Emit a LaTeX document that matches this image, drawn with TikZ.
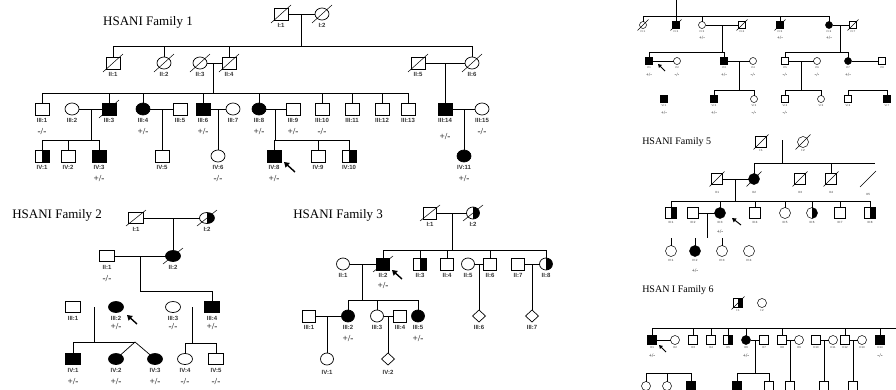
\documentclass[tikz,border=0pt]{standalone}
\usepackage{fontspec}
\setmainfont{Liberation Serif}
\setsansfont{Liberation Sans}
\usetikzlibrary{shapes.geometric,arrows.meta,calc}
\newcommand\mkdead[3]{\draw[dln,shift={(#1.center)}] (-#2,#3) -- (#2,-#3);}
\tikzset{
  ind/.style={draw=black,inner sep=0pt,outer sep=0pt,fill=white},
  sqr/.style 2 args={ind,rectangle,minimum width=#1,minimum height=#2},
  elp/.style 2 args={ind,ellipse,minimum width=#1,minimum height=#2},
  dia/.style 2 args={ind,diamond,minimum width=#1,minimum height=#2},
  aff/.style={fill=black},
  hr/.style={path picture={\fill[black] (path picture bounding box.north) rectangle (path picture bounding box.south east);}},
  dln/.style={line width=0.5pt},
  lbl/.style={font=\sffamily\bfseries\fontsize{6}{6}\selectfont,inner sep=0.2pt,text=black!80},
  gtx/.style={font=\fontsize{9.2}{9.2}\selectfont,inner sep=0pt},
  lab/.style={label={[lbl]below:{#1}}},
  labd/.style 2 args={label={[lbl,label distance=#2]below:{#1}}},
  geno/.style={label={[gtx]below:{#1}}},
  genod/.style 2 args={label={[gtx,label distance=#2]below:{#1}}},
  ttl/.style={font=\fontsize{13}{13}\selectfont,inner sep=0pt},
  parr/.style={line width=1.4pt,-{Triangle[length=5pt,width=6pt]}},
}
\begin{document}
\begin{tikzpicture}[x=1pt,y=-1pt]
\useasboundingbox (0,0) rectangle (896,389);
\fill[white] (0,0) rectangle (896,389);
\clip (0,0) rectangle (896,389);

%================ Family 1
\begin{scope}[line width=0.7pt,fsq/.style={sqr={14}{12}},fci/.style={elp={14}{12}},
  lbl/.append style={label distance=3pt},gtx/.append style={label distance=13pt}]
\node[ttl] (t1) at (148,22) {HSANI Family 1};
\node[fsq,lab={I:1}] (aI1) at (281,14) {};
\node[fci,lab={I:2}] (aI2) at (322,14) {};
\mkdead{aI1}{10}{9}\mkdead{aI2}{10}{9}
\draw (aI1) -- (aI2);
\coordinate (aJ1) at (301,14);
\coordinate (aS2a) at (113,46); \coordinate (aS2b) at (472,46);
\draw (aS2a) -- (aS2b);
\draw (aJ1) -- (aJ1 |- aS2a);
\node[fsq,lab={II:1}] (aII1) at (113,63) {};
\node[fci,lab={II:2}] (aII2) at (164,63) {};
\node[fci,lab={II:3}] (aII3) at (200,63) {};
\node[fsq,lab={II:4}] (aII4) at (229,63) {};
\node[fsq,lab={II:5}] (aII5) at (418,63) {};
\node[fci,lab={II:6}] (aII6) at (472,63) {};
\foreach \n in {aII1,aII2,aII3,aII4,aII5,aII6} {\mkdead{\n}{10}{9}}
\foreach \n in {aII1,aII2,aII4,aII6} \draw (\n) -- (\n |- aS2a);
\draw (aII3) -- (aII4); \coordinate (aJ2) at (213,63);
\coordinate (aS3a) at (42,93); \coordinate (aS3b) at (408,93);
\draw (aS3a) -- (aS3b); \draw (aJ2) -- (aJ2 |- aS3a);
\draw (aII5) -- (aII6); \coordinate (aJ3) at (445,63);
\node[fsq,lab={III:1},geno={-/-}] (aIII1) at (42,109) {};
\node[fci,lab={III:2}] (aIII2) at (72,109) {};
\node[fsq,aff,lab={III:3}] (aIII3) at (109,109) {}; \mkdead{aIII3}{10}{9}
\node[fci,aff,lab={III:4},geno={+/-}] (aIII4) at (143,109) {};
\node[fsq,lab={III:5}] (aIII5) at (180,109) {};
\node[fsq,aff,lab={III:6},geno={+/-}] (aIII6) at (203,109) {};
\node[fci,lab={III:7}] (aIII7) at (233,109) {};
\node[fci,aff,lab={III:8},geno={+/-}] (aIII8) at (259,109) {};
\node[fsq,lab={III:9},geno={+/-}] (aIII9) at (293,109) {};
\node[fsq,lab={III:10},geno={-/-}] (aIII10) at (322,109) {};
\node[fsq,lab={III:11}] (aIII11) at (352,109) {};
\node[fsq,lab={III:12}] (aIII12) at (382,109) {};
\node[fsq,lab={III:13}] (aIII13) at (408,109) {};
\node[fsq,aff,lab={III:14},genod={+/-}{18pt}] (aIII14) at (445,109) {};
\node[fci,lab={III:15},geno={-/-}] (aIII15) at (482,109) {};
\draw (aJ3) -- (aIII14);
\foreach \n in {aIII1,aIII3,aIII4,aIII6,aIII8,aIII10,aIII11,aIII12,aIII13} \draw (\n) -- (\n |- aS3a);
\draw (aIII2) -- (aIII3); \draw (aIII4) -- (aIII5); \draw (aIII6) -- (aIII7);
\draw (aIII8) -- (aIII9); \draw (aIII14) -- (aIII15);
\coordinate (aJ4) at (91,109); \coordinate (aJ5) at (162,109); \coordinate (aJ6) at (218,109);
\coordinate (aJ7) at (275,109); \coordinate (aJ8) at (464,109);
\coordinate (aS4a) at (42,140); \coordinate (aS4b) at (99,140);
\coordinate (aS5a) at (274,140); \coordinate (aS5b) at (349,140);
\draw (aS4a) -- (aS4b); \draw (aS5a) -- (aS5b);
\draw (aJ4) -- (aJ4 |- aS4a); \draw (aJ7) -- (aJ7 |- aS5a);
\node[fsq,hr,lab={IV:1}] (aIV1) at (42,156) {};
\node[fsq,lab={IV:2}] (aIV2) at (68,156) {};
\node[fsq,aff,lab={IV:3},geno={+/-}] (aIV3) at (99,156) {};
\node[fsq,lab={IV:5}] (aIV5) at (162,156) {};
\node[fci,lab={IV:6},geno={-/-}] (aIV6) at (218,156) {};
\node[fsq,aff,lab={IV:8},geno={+/-}] (aIV8) at (274,156) {};
\node[fsq,lab={IV:9}] (aIV9) at (318,156) {};
\node[fsq,hr,lab={IV:10}] (aIV10) at (349,156) {};
\node[fci,aff,lab={IV:11},geno={+/-}] (aIV11) at (464,156) {};
\foreach \n in {aIV1,aIV2,aIV3} \draw (\n) -- (\n |- aS4a);
\foreach \n in {aIV8,aIV9,aIV10} \draw (\n) -- (\n |- aS5a);
\draw (aJ5) -- (aIV5); \draw (aJ6) -- (aIV6); \draw (aJ8) -- (aIV11);
\coordinate (aA1) at (295,172); \coordinate (aA2) at (284,162);
\draw[parr] (aA1) -- (aA2);
\end{scope}

%================ Family 2
\begin{scope}[line width=0.7pt,fsq/.style={sqr={15}{11}},fci/.style={elp={15}{11}},
  lbl/.append style={label distance=3pt},gtx/.append style={label distance=13.5pt}]
\node[ttl,anchor=west] (t2) at (12,215) {HSANI Family 2};
\node[fsq,lab={I:1}] (bI1) at (136,218) {}; \mkdead{bI1}{10}{8}
\node[fci,hr,lab={I:2}] (bI2) at (207,218) {}; \mkdead{bI2}{10}{8}
\draw (bI1) -- (bI2); \coordinate (bJ1) at (173,218);
\node[fsq,lab={II:1},geno={-/-}] (bII1) at (107,256) {};
\node[fci,aff,lab={II:2}] (bII2) at (173,256) {}; \mkdead{bII2}{10}{8}
\draw (bJ1) -- (bII2);
\draw (bII1) -- (bII2); \coordinate (bJ2) at (140,256);
\coordinate (bS3a) at (140,291); \coordinate (bS3b) at (212,291);
\draw (bJ2) -- (bS3a); \draw (bS3a) -- (bS3b);
\node[fsq,lab={III:1}] (bIII1) at (73,307) {};
\node[fci,aff,lab={III:2},genod={+/-}{10.5pt}] (bIII2) at (116,307) {};
\node[fci,lab={III:3},genod={-/-}{10.5pt}] (bIII3) at (173,307) {};
\node[fsq,aff,lab={III:4},genod={+/-}{10.5pt}] (bIII4) at (212,307) {};
\draw (bIII4) -- (bIII4 |- bS3a);
\coordinate (bJ3) at (94,307); \coordinate (bS4a) at (73,342); \coordinate (bT) at (135,342);
\draw (bJ3) -- (bJ3 |- bS4a); \draw (bS4a) -- (bT);
\coordinate (bJ4) at (192,307); \coordinate (bS5a) at (185,343); \coordinate (bS5b) at (216,343);
\draw (bJ4) -- (bJ4 |- bS5a); \draw (bS5a) -- (bS5b);
\node[fsq,aff,lab={IV:1},geno={+/-}] (bIV1) at (73,359) {};
\node[fci,aff,lab={IV:2},geno={+/-}] (bIV2) at (116,359) {};
\node[fci,aff,lab={IV:3},geno={+/-}] (bIV3) at (155,359) {};
\node[fci,lab={IV:4},geno={-/-}] (bIV4) at (185,359) {};
\node[fsq,lab={IV:5},geno={-/-}] (bIV5) at (216,359) {};
\draw (bIV1) -- (bIV1 |- bS4a); \draw (bT) -- (bIV2); \draw (bT) -- (bIV3);
\draw (bIV4) -- (bIV4 |- bS5a); \draw (bIV5) -- (bIV5 |- bS5a);
\coordinate (bA1) at (137,324); \coordinate (bA2) at (127,315);
\draw[parr] (bA1) -- (bA2);
\end{scope}

%================ Family 3
\begin{scope}[line width=0.7pt,fsq/.style={sqr={13}{12}},fci/.style={elp={13}{12}},fdi/.style={dia={13}{12}},
  lbl/.append style={label distance=3pt},gtx/.append style={label distance=12.5pt}]
\node[ttl,anchor=west] (t3) at (293,215) {HSANI Family 3};
\node[fsq,lab={I:1}] (cI1) at (430,213) {}; \mkdead{cI1}{10}{8}
\node[fci,hr,lab={I:2}] (cI2) at (473,213) {}; \mkdead{cI2}{10}{8}
\draw (cI1) -- (cI2); \coordinate (cJ1) at (452,213);
\coordinate (cS2a) at (383,250); \coordinate (cS2b) at (546,250);
\draw (cJ1) -- (cJ1 |- cS2a); \draw (cS2a) -- (cS2b);
\node[fci,lab={II:1}] (cII1) at (343,264) {};
\node[fsq,aff,lab={II:2},geno={+/-}] (cII2) at (383,264) {}; \mkdead{cII2}{10}{8}
\node[fsq,hr,lab={II:3}] (cII3) at (420,264) {};
\node[fsq,lab={II:4}] (cII4) at (447,264) {};
\node[fci,lab={II:5}] (cII5) at (468,264) {};
\node[fsq,lab={II:6}] (cII6) at (490,264) {};
\node[fsq,lab={II:7}] (cII7) at (518,264) {};
\node[fci,hr,lab={II:8}] (cII8) at (546,264) {};
\foreach \n in {cII2,cII3,cII4,cII6,cII8} \draw (\n) -- (\n |- cS2a);
\draw (cII1) -- (cII2); \coordinate (cJ2) at (362,264);
\draw (cII5) -- (cII6); \coordinate (cJ3) at (479,264);
\draw (cII7) -- (cII8); \coordinate (cJ4) at (532,264);
\coordinate (cS3a) at (348,300); \coordinate (cS3b) at (418,300);
\draw (cJ2) -- (cJ2 |- cS3a); \draw (cS3a) -- (cS3b);
\node[fsq,lab={III:1}] (cIII1) at (309,316) {};
\node[fci,aff,lab={III:2},genod={+/-}{13.5pt}] (cIII2) at (348,316) {};
\node[fci,lab={III:3}] (cIII3) at (377,316) {};
\node[fsq,lab={III:4}] (cIII4) at (400,316) {};
\node[fci,aff,lab={III:5},genod={+/-}{13.5pt}] (cIII5) at (418,316) {};
\node[fdi,lab={III:6}] (cIII6) at (479,316) {};
\node[fdi,lab={III:7}] (cIII7) at (532,316) {};
\foreach \n in {cIII2,cIII3,cIII5} \draw (\n) -- (\n |- cS3a);
\draw (cJ3) -- (cIII6); \draw (cJ4) -- (cIII7);
\draw (cIII1) -- (cIII2); \coordinate (cJ5) at (327,316);
\draw (cIII3) -- (cIII4); \coordinate (cJ6) at (388,316);
\node[fci,labd={IV:1}{4.5pt}] (cIV1) at (327,359) {};
\node[fdi,labd={IV:2}{4.5pt}] (cIV2) at (388,359) {};
\draw (cJ5) -- (cIV1); \draw (cJ6) -- (cIV2);
\coordinate (cA1) at (402,279); \coordinate (cA2) at (392,270);
\draw[parr] (cA1) -- (cA2);
\end{scope}

%================ Family 4 (partial)
\begin{scope}[line width=0.5pt,fsq/.style={sqr={7}{7}},fci/.style={elp={7}{7}},
  lbl/.append style={font=\sffamily\fontsize{2.6}{3}\selectfont,label distance=1.3pt},
  gtx/.append style={font=\fontsize{5}{5}\selectfont,label distance=7.5pt}]
\coordinate (dTop) at (676,0);
\coordinate (dS1a) at (643,16); \coordinate (dS1b) at (829,16);
\draw (dS1a) -- (dS1b);
\node[fci,lab={IV:1}] (dIV1) at (643,25) {}; \mkdead{dIV1}{5.5}{5.5}
\node[fsq,aff,lab={IV:2}] (dIV2) at (676,25) {}; \mkdead{dIV2}{5.5}{5.5}
\node[fci,lab={IV:3},geno={+/-}] (dIV3) at (702,25) {};
\node[fsq,lab={IV:4}] (dIV4) at (742,25) {}; \mkdead{dIV4}{5.5}{5.5}
\node[fsq,aff,lab={IV:5},geno={+/-}] (dIV5) at (780,25) {}; \mkdead{dIV5}{5.5}{5.5}
\node[fci,aff,lab={IV:6},geno={+/-}] (dIV6) at (829,25) {};
\node[fsq,lab={IV:7}] (dIV7) at (853,25) {}; \mkdead{dIV7}{5.5}{5.5}
\draw (dTop) -- (dIV2);
\foreach \n in {dIV1,dIV3,dIV5,dIV6} \draw (\n) -- (\n |- dS1a);
\draw (dIV3) -- (dIV4); \coordinate (dJ1) at (722,25);
\draw (dIV6) -- (dIV7); \coordinate (dJ2) at (840,25);
\coordinate (dS2a) at (649,52); \coordinate (dS2b) at (724,52);
\coordinate (dS3a) at (785,52); \coordinate (dS3b) at (848,52);
\draw (dS2a) -- (dS2b); \draw (dS3a) -- (dS3b);
\draw (dJ1) -- (dJ1 |- dS2a); \draw (dJ2) -- (dJ2 |- dS3a);
\begin{scope}[gtx/.append style={label distance=8.5pt}]
\node[fsq,aff,lab={V:1},geno={+/-}] (dV1) at (649,61) {};
\node[fci,lab={V:2},geno={-/-}] (dV2) at (677,61) {};
\node[fsq,aff,lab={V:3},geno={+/-}] (dV3) at (724,61) {};
\node[fci,lab={V:4},geno={-/-}] (dV4) at (753,61) {};
\node[fsq,lab={V:5},geno={-/-}] (dV5) at (785,61) {};
\node[fci,lab={V:6},geno={-/-}] (dV6) at (817,61) {};
\node[fci,aff,lab={V:7},geno={+/-}] (dV7) at (848,61) {};
\node[fsq,lab={V:8}] (dV8) at (882,61) {};
\node[fsq,aff,lab={VI:1},geno={+/-}] (dVI1) at (664,99) {};
\node[fsq,aff,lab={VI:2},geno={+/-}] (dVI2) at (714,99) {};
\node[fci,lab={VI:3},geno={-/-}] (dVI3) at (754,99) {};
\node[fsq,lab={VI:4},geno={-/-}] (dVI4) at (785,99) {};
\node[fci,lab={VI:5}] (dVI5) at (821,99) {};
\node[fsq,lab={VI:6}] (dVI6) at (848,99) {};
\node[fsq,aff,lab={VI:7}] (dVI7) at (887,99) {};
\end{scope}
\foreach \n in {dV1,dV3} \draw (\n) -- (\n |- dS2a);
\foreach \n in {dV5,dV7} \draw (\n) -- (\n |- dS3a);
\draw (dV1) -- (dV2); \draw (dV3) -- (dV4); \draw (dV5) -- (dV6); \draw (dV7) -- (dV8);
\coordinate (dJ3) at (739,61); \coordinate (dJ4) at (801,61);
\coordinate (dS4a) at (714,90); \coordinate (dS4b) at (754,90);
\coordinate (dS5a) at (785,90); \coordinate (dS5b) at (821,90);
\coordinate (dS6a) at (848,90); \coordinate (dS6b) at (887,90);
\draw (dS4a) -- (dS4b); \draw (dS5a) -- (dS5b); \draw (dS6a) -- (dS6b);
\draw (dJ3) -- (dJ3 |- dS4a); \draw (dJ4) -- (dJ4 |- dS5a);
\foreach \n in {dVI2,dVI3} \draw (\n) -- (\n |- dS4a);
\foreach \n in {dVI4,dVI5} \draw (\n) -- (\n |- dS5a);
\foreach \n in {dVI6,dVI7} \draw (\n) -- (\n |- dS6a);
\coordinate (dA1) at (665,71); \coordinate (dA2) at (658,64);
\draw[parr,line width=0.9pt,-{Triangle[length=3.5pt,width=4pt]}] (dA1) -- (dA2);
\end{scope}

%================ Family 5
\begin{scope}[line width=0.5pt,fsq/.style={sqr={11}{11}},fci/.style={elp={11}{11}},
  lbl/.append style={font=\sffamily\fontsize{3}{3}\selectfont,label distance=2.5pt},
  gtx/.append style={font=\fontsize{5.5}{5.5}\selectfont,label distance=11pt}]
\node[ttl,font=\fontsize{10}{10}\selectfont,anchor=west] (t5) at (642,142) {HSANI Family 5};
\node[fsq,labd={I:1}{1pt}] (eI1) at (761,142) {}; \mkdead{eI1}{7.5}{7.5}
\node[fci,labd={I:2}{1pt}] (eI2) at (803,142) {}; \mkdead{eI2}{7.5}{7.5}
\coordinate (eJ1) at (782,140); \coordinate (eS2a) at (754,163); \coordinate (eS2b) at (875,163);
\draw (eJ1) -- (eJ1 |- eS2a); \draw (eS2a) -- (eS2b);
\node[fsq,labd={II:1}{6pt}] (eII1) at (717,179) {}; \mkdead{eII1}{7.5}{7.5}
\node[fci,aff,labd={II:2}{6pt}] (eII2) at (754,179) {}; \mkdead{eII2}{7.5}{7.5}
\node[fsq,labd={II:3}{6pt}] (eII3) at (800,179) {}; \mkdead{eII3}{7.5}{7.5}
\node[fsq,labd={II:4}{6pt}] (eII4) at (831,179) {}; \mkdead{eII4}{7.5}{7.5}
\coordinate (eII5) at (868,179);
\draw[dln,shift={(eII5)}] (-8,8) -- (8,-8);
\node[lbl] (eII5l) at (868,194) {II:5};
\foreach \n in {eII2,eII4} \draw (\n) -- (\n |- eS2a);
\draw (eII1) -- (eII2); \coordinate (eJ2) at (735,179);
\coordinate (eS3a) at (671,201); \coordinate (eS3b) at (870,201);
\draw (eJ2) -- (eJ2 |- eS3a); \draw (eS3a) -- (eS3b);
\node[fsq,hr,lab={III:1}] (eIII1) at (671,213) {};
\node[fsq,lab={III:2}] (eIII2) at (693,213) {};
\node[fci,aff,lab={III:3},geno={+/-}] (eIII3) at (720,213) {};
\node[fsq,lab={III:4}] (eIII4) at (755,213) {};
\node[fci,lab={III:5}] (eIII5) at (785,213) {};
\node[fci,hr,lab={III:6}] (eIII6) at (812,213) {};
\node[fsq,lab={III:7}] (eIII7) at (840,213) {};
\node[fsq,hr,lab={III:8}] (eIII8) at (870,213) {};
\foreach \n in {eIII1,eIII3,eIII4,eIII5,eIII6,eIII7,eIII8} \draw (\n) -- (\n |- eS3a);
\draw (eIII2) -- (eIII3); \coordinate (eJ3) at (707,213); \coordinate (eJ4) at (707,238);
\draw (eJ3) -- (eJ4);
\node[fci,lab={IV:1}] (eIV1) at (671,251) {};
\node[fci,aff,lab={IV:2},genod={+/-}{12pt}] (eIV2) at (695,251) {};
\node[fci,lab={IV:3}] (eIV3) at (722,251) {};
\node[fci,lab={IV:4}] (eIV4) at (749,251) {};
\foreach \n in {eIV1,eIV2,eIV3} \draw (\n) -- (\n |- eJ4);
\coordinate (eA1) at (741,225); \coordinate (eA2) at (732,218);
\draw[parr,line width=1pt,-{Triangle[length=4pt,width=4.5pt]}] (eA1) -- (eA2);
\end{scope}

%================ Family 6
\begin{scope}[line width=0.5pt,fsq/.style={sqr={9}{9}},fci/.style={elp={9}{9}},
  lbl/.append style={font=\sffamily\fontsize{2.8}{3}\selectfont,label distance=1.5pt},
  gtx/.append style={font=\fontsize{5.5}{5.5}\selectfont,label distance=9.5pt}]
\node[ttl,font=\fontsize{10}{10}\selectfont,anchor=west] (t6) at (642,290) {HSAN I Family 6};
\node[fsq,hr,lab={I:1}] (gI1) at (738,303) {}; \mkdead{gI1}{6.5}{6.5}
\node[fci,lab={I:2}] (gI2) at (762,303) {};
\coordinate (gS2a) at (652,328); \coordinate (gS2b) at (896,328);
\draw (gS2a) -- (gS2b);
\node[fsq,aff,lab={II:1},geno={+/-}] (gII1) at (652,340) {};
\node[fci,lab={II:2}] (gII2) at (675,340) {};
\node[fsq,lab={II:3}] (gII3) at (693,340) {};
\node[fsq,lab={II:4}] (gII4) at (711,340) {};
\node[fsq,hr,lab={II:5}] (gII5) at (728,340) {};
\node[fci,aff,lab={II:6},geno={+/-}] (gII6) at (746,340) {};
\node[fsq,lab={II:7}] (gII7) at (764,340) {};
\node[fsq,lab={II:8}] (gII8) at (782,340) {};
\node[fci,lab={II:9}] (gII9) at (799,340) {};
\node[fsq,lab={II:10}] (gII10) at (816,340) {};
\node[fci,lab={II:11}] (gII11) at (833,340) {};
\node[fsq,lab={II:12}] (gII12) at (845,340) {};
\node[fci,lab={II:13}] (gII13) at (862,340) {};
\node[fsq,aff,lab={II:14},geno={-/-}] (gII14) at (880,340) {};
\foreach \n in {gII1,gII3,gII4,gII5,gII6,gII8,gII12,gII14} \draw (\n) -- (\n |- gS2a);
\draw (gII1) -- (gII2); \draw (gII6) -- (gII7); \draw (gII8) -- (gII9);
\draw (gII10) -- (gII11); \draw (gII12) -- (gII13);
\coordinate (gJ1) at (755,340); \coordinate (gJ2) at (790,340);
\coordinate (gJ3) at (824,340); \coordinate (gJ4) at (853,340);
\coordinate (gS3a) at (646,373); \coordinate (gS3b) at (691,373);
\coordinate (gS4a) at (737,373); \coordinate (gS4b) at (769,373);
\draw (gS3a) -- (gS3b); \draw (gS4a) -- (gS4b);
\draw (gJ1) -- (gJ1 |- gS4a);
\node[fci] (gIII1) at (646,386) {};
\node[fci] (gIII2) at (667,386) {};
\node[fsq,aff] (gIII3) at (691,386) {};
\node[fsq,aff] (gIII4) at (737,386) {};
\node[fsq] (gIII5) at (769,386) {};
\node[fsq] (gIII6) at (790,386) {};
\node[fsq] (gIII7) at (824,386) {};
\node[fsq] (gIII8) at (853,386) {};
\foreach \n in {gIII1,gIII2,gIII3} \draw (\n) -- (\n |- gS3a);
\foreach \n in {gIII4,gIII5} \draw (\n) -- (\n |- gS4a);
\draw (gJ2) -- (gIII6); \draw (gJ3) -- (gIII7); \draw (gJ4) -- (gIII8);
\coordinate (gA1) at (666,352); \coordinate (gA2) at (659,345);
\draw[parr,line width=0.9pt,-{Triangle[length=3.5pt,width=4pt]}] (gA1) -- (gA2);
\end{scope}
\end{tikzpicture}
\end{document}
